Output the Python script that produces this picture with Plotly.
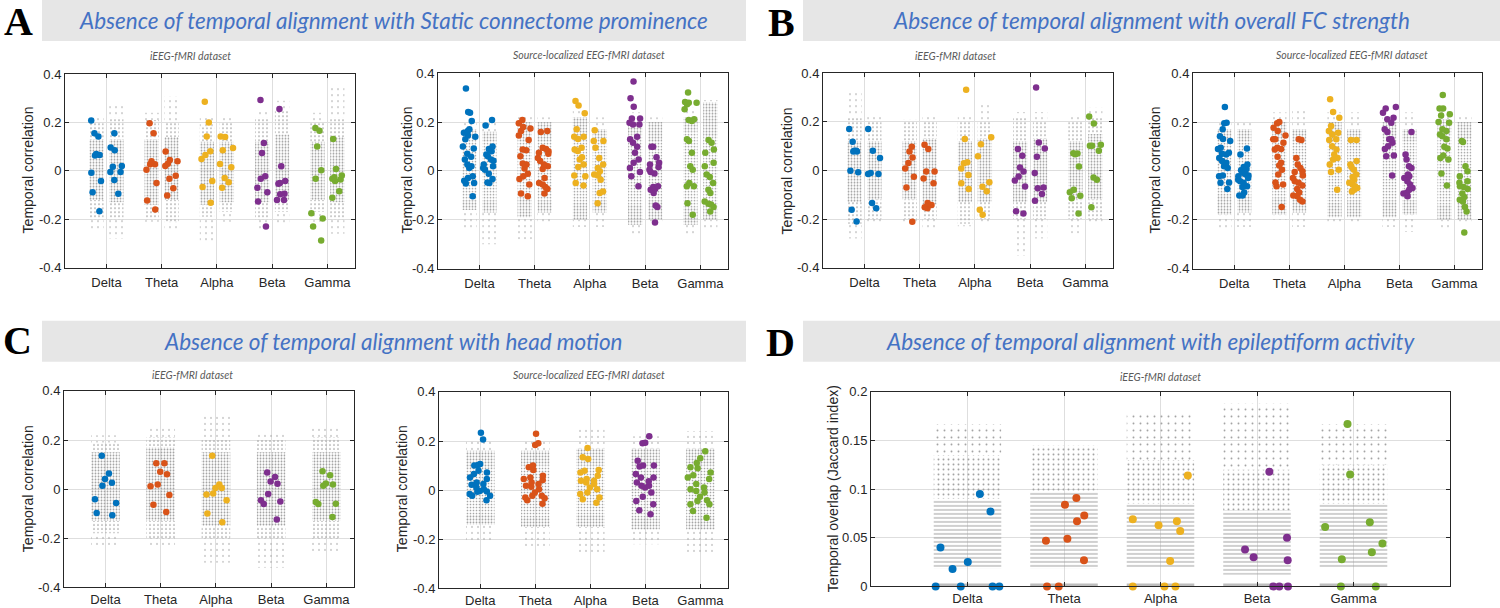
import plotly.graph_objects as go

W, H = 1500, 608
BANDS = ["Delta", "Theta", "Alpha", "Beta", "Gamma"]
BAND_COLORS = ["#0072BD", "#D95319", "#EDB120", "#7E2F8E", "#77AC30"]
CORR_TICKS = [-0.4, -0.2, 0, 0.2, 0.4]
CORR_TICK_TEXT = ["-0.4", "-0.2", "0", "0.2", "0.4"]
JAC_TICKS = [0, 0.05, 0.1, 0.15, 0.2]
JAC_TICK_TEXT = ["0", "0.05", "0.1", "0.15", "0.2"]

# ---------------- coloured (observed) values, per band ----------------
# Panel A, iEEG-fMRI (left / right column of each band)
A1_LEFT = [[0.208, 0.156, 0.142, 0.07, 0.066, 0.064, -0.008, -0.042, -0.088, -0.167],
           [0.197, 0.156, 0.04, 0.027, 0.027, 0.005, -0.05, -0.122, -0.16],
           [0.286, 0.2, 0.142, 0.081, 0.066, 0.049, -0.042, -0.067, -0.132],
           [0.293, 0.115, 0.074, -0.022, -0.033, -0.07, -0.088, -0.127, -0.23],
           [0.177, 0.166, 0.101, 0.003, -0.032, -0.175, -0.197, -0.23, -0.288]]
A1_RIGHT = [[0.156, 0.097, 0.085, 0.02, 0.017, -0.005, -0.005, -0.038, -0.095],
            [0.08, 0.045, 0.04, 0.03, 0.02, -0.02, -0.032, -0.072, -0.102],
            [0.142, 0.14, 0.095, 0.085, 0.029, 0.015, -0.029, -0.047, -0.07],
            [0.256, 0.019, -0.042, -0.05, -0.053, -0.095, -0.097, -0.12, -0.12],
            [0.132, 0.008, -0.019, -0.026, -0.032, -0.036, -0.042, -0.084, -0.111]]
# Panel A, source-localized EEG-fMRI
A2_LEFT = [[0.337, 0.241, 0.238, 0.204, 0.17, 0.163, 0.156, 0.145, 0.14, 0.129, 0.1, 0.092, 0.07, 0.058,
            0.047, 0.026, 0.019, 0.012, -0.022, -0.029, -0.04, -0.05, -0.052, -0.104],
           [0.208, 0.195, 0.18, 0.173, 0.163, 0.145, 0.126, 0.088, 0.084, 0.06, 0.03, 0.026, 0.01, -0.012,
            -0.022, -0.033, -0.056, -0.093, -0.104],
           [0.286, 0.268, 0.236, 0.17, 0.14, 0.14, 0.131, 0.095, 0.088, 0.081, 0.056, 0.047, 0.026, 0.016,
            -0.019, -0.022, -0.05, -0.06],
           [0.366, 0.297, 0.263, 0.214, 0.214, 0.197, 0.19, 0.19, 0.14, 0.129, 0.115, 0.099, 0.074, 0.047,
            0.033, 0.012, -0.005, -0.022, -0.063],
           [0.321, 0.282, 0.279, 0.279, 0.273, 0.252, 0.211, 0.208, 0.204, 0.129, 0.122, 0.074, 0.019, 0.005,
            -0.05, -0.063, -0.063, -0.132, -0.18]]
A2_RIGHT = [[0.208, 0.186, 0.1, 0.09, 0.08, 0.067, 0.06, 0.047, 0.042, 0.026, 0.019, 0.012, 0.005, -0.012,
             -0.033, -0.047, -0.05],
            [0.163, 0.159, 0.095, 0.09, 0.08, 0.074, 0.07, 0.053, 0.04, 0.026, 0.019, 0.008, -0.029, -0.05,
             -0.056, -0.066, -0.074, -0.093],
            [0.166, 0.122, 0.122, 0.095, 0.053, 0.026, 0.012, -0.001, -0.015, -0.019, -0.036, -0.084, -0.09,
             -0.132],
            [0.099, 0.099, 0.056, 0.033, 0.026, 0.016, 0.005, -0.005, -0.011, -0.063, -0.066, -0.074, -0.077,
             -0.09, -0.142, -0.148, -0.211],
            [0.126, 0.115, 0.088, 0.074, 0.033, 0.019, -0.015, -0.025, -0.05, -0.077, -0.09, -0.125, -0.134,
             -0.138, -0.148, -0.166]]
# Panel B, iEEG-fMRI
B1_LEFT = [[0.17, 0.118, 0.081, 0.081, 0.078, 0.078, -0.001, -0.008, -0.162, -0.21],
           [0.097, 0.078, 0.053, 0.03, 0.008, -0.026, -0.07, -0.211],
           [0.332, 0.129, 0.033, 0.029, 0.008, -0.019, -0.053, -0.077],
           [0.088, 0.06, 0.012, -0.005, -0.025, -0.042, -0.066, -0.168, -0.177],
           [0.071, 0.07, 0.066, 0.016, -0.08, -0.09, -0.104, -0.115, -0.177]]
B1_RIGHT = [[0.17, 0.081, 0.051, -0.015, -0.015, -0.011, -0.134, -0.156],
            [0.105, 0.088, -0.005, -0.005, -0.033, -0.053, -0.134, -0.142, -0.152, -0.156],
            [0.136, 0.108, 0.058, -0.049, -0.067, -0.086, -0.162, -0.182],
            [0.341, 0.115, 0.09, 0.056, -0.011, -0.07, -0.073, -0.097, -0.125],
            [0.222, 0.193, 0.105, 0.101, 0.101, 0.081, -0.029, -0.038, -0.152]]
# Panel B, source-localized EEG-fMRI
B2_LEFT = [[0.262, 0.197, 0.195, 0.17, 0.142, 0.131, 0.122, 0.095, 0.09, 0.074, 0.07, 0.067, 0.053, 0.04,
            0.033, 0.019, 0.012, -0.019, -0.022, -0.047, -0.049, -0.074],
           [0.2, 0.195, 0.177, 0.163, 0.145, 0.129, 0.129, 0.115, 0.095, 0.09, 0.088, 0.058, 0.033, 0.022,
            0.005, -0.015, -0.047, -0.056, -0.063, -0.148],
           [0.293, 0.241, 0.218, 0.184, 0.163, 0.156, 0.149, 0.129, 0.126, 0.101, 0.088, 0.067, 0.053, 0.047,
            0.026, 0.005, -0.005, -0.077],
           [0.262, 0.255, 0.238, 0.218, 0.211, 0.197, 0.17, 0.159, 0.129, 0.129, 0.115, 0.101, 0.09, 0.063,
            0.06, -0.019],
           [0.311, 0.255, 0.255, 0.232, 0.227, 0.2, 0.197, 0.17, 0.163, 0.149, 0.142, 0.129, 0.099, 0.092,
            0.063, 0.053, 0.047, -0.011, -0.06]]
B2_RIGHT = [[0.092, 0.067, 0.026, 0.016, 0.008, 0.003, -0.008, -0.015, -0.019, -0.022, -0.029, -0.036, -0.042,
             -0.049, -0.063, -0.066, -0.088, -0.101, -0.101],
            [0.129, 0.126, 0.053, 0.026, 0.012, -0.001, -0.005, -0.019, -0.029, -0.042, -0.049, -0.06, -0.074,
             -0.088, -0.101, -0.104, -0.118, -0.125],
            [0.126, 0.126, 0.04, 0.026, 0.016, 0.005, -0.015, -0.025, -0.036, -0.049, -0.056, -0.063, -0.07,
             -0.077, -0.084],
            [0.159, 0.067, 0.047, 0.019, 0.012, -0.015, -0.022, -0.029, -0.042, -0.056, -0.07, -0.077, -0.088,
             -0.093, -0.104],
            [0.122, 0.118, 0.019, -0.001, -0.022, -0.042, -0.049, -0.063, -0.066, -0.074, -0.093, -0.107, -0.118,
             -0.125, -0.148, -0.166, -0.252]]
# Panel C (one column per band)
C1_VALUES = [[0.136, 0.064, 0.041, 0.026, 0.014, -0.041, -0.056, -0.097, -0.106],
             [0.105, 0.105, 0.071, 0.061, 0.019, 0.012, -0.024, -0.064, -0.093],
             [0.136, 0.019, 0.005, 0.005, -0.018, -0.022, -0.045, -0.099, -0.135],
             [0.068, 0.05, 0.031, 0.022, -0.02, -0.045, -0.05, -0.06, -0.124],
             [0.073, 0.057, 0.023, 0.019, 0.014, -0.052, -0.059, -0.06, -0.113]]
C2_VALUES = [[0.234, 0.206, 0.107, 0.102, 0.1, 0.079, 0.072, 0.066, 0.052, 0.045, 0.031, 0.025, 0.022, 0.011,
              0.004, -0.003, -0.005, -0.007, -0.016, -0.023, -0.023, -0.041],
             [0.23, 0.191, 0.184, 0.1, 0.093, 0.082, 0.059, 0.052, 0.045, 0.041, 0.031, 0.025, 0.018, 0.014,
              0.004, -0.01, -0.023, -0.023, -0.03, -0.033, -0.041, -0.055],
             [0.172, 0.134, 0.127, 0.082, 0.079, 0.072, 0.059, 0.045, 0.038, 0.038, 0.031, 0.025, 0.011, 0.004,
              -0.01, -0.016, -0.03, -0.037, -0.051],
             [0.219, 0.193, 0.191, 0.12, 0.1, 0.1, 0.096, 0.066, 0.052, 0.052, 0.036, 0.031, 0.018, 0.018, 0.011,
              -0.01, -0.027, -0.044, -0.057, -0.082, -0.098],
             [0.158, 0.13, 0.111, 0.093, 0.089, 0.072, 0.061, 0.052, 0.045, 0.025, 0.011, 0.004, -0.003, -0.01,
              -0.027, -0.041, -0.044, -0.057, -0.057, -0.085, -0.112]]
# Panel D: Jaccard index and the horizontal jitter read for each point
D_VALUES = [[0.095, 0.077, 0.04, 0.025, 0.018, 0, 0, 0, 0],
            [0.091, 0.084, 0.073, 0.067, 0.049, 0.047, 0.027, 0, 0],
            [0.114, 0.069, 0.067, 0.063, 0.057, 0.026, 0, 0, 0],
            [0.118, 0.05, 0.038, 0.03, 0.027, 0, 0, 0],
            [0.167, 0.115, 0.066, 0.061, 0.044, 0.035, 0.028, 0, 0]]
D_JITTER = [[0.128, 0.238, -0.28, 0.003, -0.155, -0.33, -0.07, 0.26, 0.33],
            [0.128, 0.01, 0.21, 0.135, 0.035, -0.187, 0.207, -0.176, -0.055],
            [0.283, -0.287, 0.17, -0.02, 0.204, 0.1, -0.287, 0.041, 0.155],
            [0.128, 0.311, -0.124, -0.035, 0.318, 0.169, 0.231, 0.321],
            [-0.062, -0.035, 0.169, -0.294, 0.3, 0.19, -0.121, -0.131, 0.231]]

# ---------------- null-distribution clouds (extent read per column) ----------------
# columns ordered Delta-L, Delta-R, Theta-L, Theta-R, ... Gamma-R
A1_CORE_LO = [-0.12, -0.13, -0.14, -0.12, -0.14, -0.13, -0.13, -0.12, -0.12, -0.13]
A1_CORE_HI = [0.13, 0.13, 0.13, 0.14, 0.12, 0.12, 0.12, 0.15, 0.12, 0.14]
A1_MID_LO = [-0.2, -0.2, -0.2, -0.21, -0.19, -0.17, -0.2, -0.17, -0.17, -0.2]
A1_MID_HI = [0.2, 0.22, 0.21, 0.2, 0.18, 0.2, 0.22, 0.25, 0.2, 0.22]
A1_TAIL_LO = [-0.25, -0.28, -0.21, -0.24, -0.29, -0.21, -0.25, -0.22, -0.21, -0.26]
A1_TAIL_HI = [0.23, 0.27, 0.24, 0.31, 0.22, 0.22, 0.25, 0.29, 0.24, 0.35]

A2_CORE_LO = [-0.12, -0.12, -0.11, -0.12, -0.13, -0.12, -0.14, -0.12, -0.15, -0.13]
A2_CORE_HI = [0.13, 0.12, 0.12, 0.12, 0.13, 0.12, 0.15, 0.12, 0.16, 0.14]
A2_MID_LO = [-0.16, -0.17, -0.19, -0.17, -0.2, -0.17, -0.22, -0.2, -0.22, -0.2]
A2_MID_HI = [0.17, 0.16, 0.2, 0.2, 0.22, 0.17, 0.2, 0.2, 0.22, 0.28]
A2_TAIL_LO = [-0.24, -0.3, -0.28, -0.22, -0.23, -0.23, -0.26, -0.22, -0.26, -0.24]
A2_TAIL_HI = [0.2, 0.2, 0.23, 0.22, 0.25, 0.22, 0.24, 0.22, 0.26, 0.29]

B1_CORE_LO = [-0.13, -0.12, -0.12, -0.14, -0.13, -0.13, -0.13, -0.13, -0.12, -0.12]
B1_CORE_HI = [0.12, 0.12, 0.12, 0.13, 0.12, 0.13, 0.12, 0.13, 0.12, 0.15]
B1_MID_LO = [-0.22, -0.2, -0.2, -0.2, -0.22, -0.2, -0.2, -0.2, -0.2, -0.2]
B1_MID_HI = [0.22, 0.2, 0.2, 0.2, 0.2, 0.2, 0.22, 0.2, 0.2, 0.22]
B1_TAIL_LO = [-0.28, -0.22, -0.22, -0.24, -0.23, -0.22, -0.35, -0.28, -0.26, -0.22]
B1_TAIL_HI = [0.32, 0.23, 0.21, 0.22, 0.23, 0.28, 0.24, 0.24, 0.23, 0.26]

B2_CORE_LO = [-0.1, -0.1, -0.11, -0.11, -0.13, -0.12, -0.12, -0.12, -0.14, -0.12]
B2_CORE_HI = [0.12, 0.12, 0.13, 0.12, 0.13, 0.12, 0.14, 0.12, 0.15, 0.13]
B2_MID_LO = [-0.18, -0.17, -0.18, -0.17, -0.19, -0.19, -0.19, -0.18, -0.2, -0.2]
B2_MID_HI = [0.17, 0.17, 0.2, 0.17, 0.2, 0.17, 0.2, 0.17, 0.21, 0.2]
B2_TAIL_LO = [-0.24, -0.23, -0.2, -0.23, -0.21, -0.22, -0.23, -0.25, -0.24, -0.22]
B2_TAIL_HI = [0.2, 0.2, 0.24, 0.25, 0.24, 0.24, 0.22, 0.24, 0.25, 0.23]

C1_CORE_LO = [-0.13, -0.13, -0.15, -0.15, -0.13]
C1_CORE_HI = [0.15, 0.17, 0.15, 0.15, 0.15]
C1_MID_LO = [-0.18, -0.2, -0.2, -0.2, -0.2]
C1_MID_HI = [0.19, 0.21, 0.2, 0.2, 0.21]
C1_TAIL_LO = [-0.23, -0.24, -0.3, -0.32, -0.26]
C1_TAIL_HI = [0.22, 0.25, 0.3, 0.23, 0.25]

C2_CORE_LO = [-0.1, -0.11, -0.1, -0.11, -0.11]
C2_CORE_HI = [0.09, 0.1, 0.1, 0.1, 0.1]
C2_MID_LO = [-0.14, -0.15, -0.15, -0.16, -0.16]
C2_MID_HI = [0.16, 0.16, 0.17, 0.17, 0.17]
C2_TAIL_LO = [-0.21, -0.24, -0.26, -0.22, -0.26]
C2_TAIL_HI = [0.2, 0.21, 0.25, 0.22, 0.24]

D_CORE_LO = [0.018, 0.018, 0.02, 0.012, 0.02]
D_CORE_HI = [0.09, 0.098, 0.085, 0.078, 0.085]
D_MID_HI = [0.135, 0.145, 0.13, 0.12, 0.125]
D_TAIL_HI = [0.167, 0.145, 0.18, 0.188, 0.167]

# ---------------- styles ----------------
DOT = "rgb(160,160,160)"
AX_COL = "rgb(38,38,38)"
GRID_COL = "rgb(222,222,222)"
HEADER_BG = "rgb(230,230,230)"
HEADER_FG = "rgb(68,114,196)"
SANS = "Liberation Sans, Arial, sans-serif"
HUMAN = "Lato, Open Sans, sans-serif"
NONE = "rgba(0,0,0,0)"

# vertical calibration of the photographed page (measured: shown_y = Y0 + YS * page_y)
Y0, YS = 8.0, 0.973


def yp(y):
    """target picture row (px from top) -> paper fraction"""
    return 1 - ((y - Y0) / YS) / H


fig = go.Figure()


def band_bars(ax, centers, hw, lows, highs, bg, size, solidity, shape="."):
    """Cloud band drawn as floating bars (base=low, height=high-low) with a dot pattern."""
    xs, base, hgt = [], [], []
    for c, lo, hi in zip(centers, lows, highs):
        if hi > lo:
            xs.append(c)
            base.append(lo)
            hgt.append(hi - lo)
    pattern = dict(shape=shape, fgcolor=DOT, size=size, solidity=solidity, fillmode="replace")
    fig.add_trace(go.Bar(x=xs, y=hgt, base=base, width=2 * hw,
                         marker=dict(color=bg, line=dict(width=0), pattern=pattern),
                         hoverinfo="skip", showlegend=False, xaxis="x" + ax, yaxis="y" + ax))


def add_cloud(ax, centers, hw, core_lo, core_hi, mid_lo, mid_hi, tail_lo, tail_hi, dense):
    band_bars(ax, centers, hw, mid_hi, tail_hi, NONE, 6, 0.06)
    band_bars(ax, centers, hw, tail_lo, mid_lo, NONE, 6, 0.06)
    if dense:
        band_bars(ax, centers, hw, core_hi, mid_hi, "rgb(222,222,222)", 3, 0.3)
        band_bars(ax, centers, hw, mid_lo, core_lo, "rgb(222,222,222)", 3, 0.3)
        band_bars(ax, centers, hw, core_lo, core_hi, "rgb(190,190,190)", 3, 0.25)
    else:
        band_bars(ax, centers, hw, core_hi, mid_hi, "rgb(236,236,236)", 4, 0.15)
        band_bars(ax, centers, hw, mid_lo, core_lo, "rgb(236,236,236)", 4, 0.15)
        band_bars(ax, centers, hw, core_lo, core_hi, "rgb(210,210,210)", 3, 0.3)


OFF = 0.18
TWO_COL = [i + 1 + s for i in range(5) for s in (-OFF, OFF)]
ONE_COL = [i + 1 for i in range(5)]


def point_box(ax, xs, ys, color, width):
    fig.add_trace(go.Box(x=xs, y=ys, boxpoints="all", jitter=1, pointpos=0, width=width,
                         marker=dict(color=color, size=6.5, line=dict(width=0)),
                         line=dict(width=0, color=NONE), fillcolor=NONE,
                         whiskerwidth=0, hoverinfo="skip", showlegend=False,
                         xaxis="x" + ax, yaxis="y" + ax))


def add_points_two(ax, left, right):
    for i in range(5):
        xs = [i + 1 - OFF] * len(left[i]) + [i + 1 + OFF] * len(right[i])
        point_box(ax, xs, left[i] + right[i], BAND_COLORS[i], 0.26)


def add_points_one(ax, vals):
    for i in range(5):
        point_box(ax, [i + 1] * len(vals[i]), vals[i], BAND_COLORS[i], 0.5)


# panel A
add_cloud("", TWO_COL, 0.13, A1_CORE_LO, A1_CORE_HI, A1_MID_LO, A1_MID_HI, A1_TAIL_LO, A1_TAIL_HI, False)
add_points_two("", A1_LEFT, A1_RIGHT)
add_cloud("2", TWO_COL, 0.13, A2_CORE_LO, A2_CORE_HI, A2_MID_LO, A2_MID_HI, A2_TAIL_LO, A2_TAIL_HI, True)
add_points_two("2", A2_LEFT, A2_RIGHT)
# panel B
add_cloud("3", TWO_COL, 0.13, B1_CORE_LO, B1_CORE_HI, B1_MID_LO, B1_MID_HI, B1_TAIL_LO, B1_TAIL_HI, False)
add_points_two("3", B1_LEFT, B1_RIGHT)
add_cloud("4", TWO_COL, 0.13, B2_CORE_LO, B2_CORE_HI, B2_MID_LO, B2_MID_HI, B2_TAIL_LO, B2_TAIL_HI, True)
add_points_two("4", B2_LEFT, B2_RIGHT)
# panel C
add_cloud("5", ONE_COL, 0.26, C1_CORE_LO, C1_CORE_HI, C1_MID_LO, C1_MID_HI, C1_TAIL_LO, C1_TAIL_HI, False)
add_points_one("5", C1_VALUES)
add_cloud("6", ONE_COL, 0.26, C2_CORE_LO, C2_CORE_HI, C2_MID_LO, C2_MID_HI, C2_TAIL_LO, C2_TAIL_HI, True)
add_points_one("6", C2_VALUES)

# panel D
band_bars("7", ONE_COL, 0.35, D_MID_HI, D_TAIL_HI, NONE, 7, 0.06)
band_bars("7", ONE_COL, 0.35, D_CORE_HI, D_MID_HI, NONE, 5, 0.12)
band_bars("7", ONE_COL, 0.35, D_CORE_LO, D_CORE_HI, "rgb(246,246,246)", 4, 0.25, "-")
zx, zy = [], []
for c in ONE_COL:
    zx += [c - 0.35, c + 0.35, None]
    zy += [0, 0, None]
fig.add_trace(go.Scatter(x=zx, y=zy, mode="lines", line=dict(color="rgb(190,190,190)", width=6),
                         hoverinfo="skip", showlegend=False, xaxis="x7", yaxis="y7"))
for i in range(5):
    fig.add_trace(go.Scatter(x=[i + 1 + j for j in D_JITTER[i]], y=D_VALUES[i], mode="markers",
                             marker=dict(color=BAND_COLORS[i], size=8, line=dict(width=0)),
                             cliponaxis=False, hoverinfo="skip", showlegend=False,
                             xaxis="x7", yaxis="y7"))

# ---------------- axes ----------------
AXES = {  # name: (left, right, top, bottom) in picture px
    "": (65, 355, 75, 268),
    "2": (438, 728, 74, 269),
    "3": (823, 1113, 74, 268),
    "4": (1193, 1482, 74, 269),
    "5": (64, 354, 391, 587),
    "6": (439, 728, 392, 588),
    "7": (871, 1450, 392, 586),
}
common = dict(showline=True, linecolor=AX_COL, linewidth=1, mirror="ticks", ticks="inside", ticklen=4,
              tickcolor=AX_COL, showgrid=True, gridcolor=GRID_COL, gridwidth=1, zeroline=False,
              tickfont=dict(family=SANS, size=13, color=AX_COL), fixedrange=True)
lay = {}
for name, (l, r, t, b) in AXES.items():
    is_d = name == "7"
    xa = dict(common, domain=[l / W, r / W], anchor="y" + name,
              range=[0, 6] if is_d else [0.25, 5.5], tickvals=ONE_COL, ticktext=BANDS,
              ticklabelstandoff=3 if t < 300 else 0)
    ya = dict(common, domain=[yp(b), yp(t)], anchor="x" + name,
              range=[0, 0.2] if is_d else [-0.4, 0.4],
              tickvals=JAC_TICKS if is_d else CORR_TICKS,
              ticktext=JAC_TICK_TEXT if is_d else CORR_TICK_TEXT)
    lay["xaxis" + name] = xa
    lay["yaxis" + name] = ya

# ---------------- headers & text ----------------
shapes = []
for (x0, x1, y0, y1) in [(42, 746, -12, 42), (803, 1500, -12, 42), (42, 746, 321, 362), (803, 1500, 321, 362)]:
    shapes.append(dict(type="rect", xref="paper", yref="paper", x0=x0 / W, x1=x1 / W,
                       y0=yp(y1), y1=yp(y0), fillcolor=HEADER_BG, line=dict(width=0), layer="below"))

ann = []


def text(x, y, s, size, color, family, angle=0):
    ann.append(dict(x=x / W, y=yp(y), xref="paper", yref="paper", text=s, showarrow=False,
                    xanchor="center", yanchor="middle", textangle=angle,
                    font=dict(size=size, color=color, family=family)))


HEADERS = ["Absence of temporal alignment with Static connectome prominence",
           "Absence of temporal alignment with overall FC strength",
           "Absence of temporal alignment with head motion",
           "Absence of temporal alignment with epileptiform activity"]
for (cx, cy), s in zip([(393, 21), (1151, 21), (393, 342), (1151, 342)], HEADERS):
    text(cx, cy, "<i>" + s + "</i>", 22.5, HEADER_FG, HUMAN)
for (cx, cy), s in zip([(18, 22), (781, 23), (17, 341), (780, 343)], ["A", "B", "C", "D"]):
    text(cx, cy, "<b>" + s + "</b>", 40, "black", "Liberation Serif, Times New Roman, serif")
SUBTITLES = ["iEEG-fMRI dataset", "Source-localized EEG-fMRI dataset"]
for (cx, cy), s in zip([(190, 57), (589, 56), (955, 57), (1352, 56), (192, 375), (589, 375), (1160, 377)],
                       [0, 1, 0, 1, 0, 1, 0]):
    text(cx, cy, "<i>" + SUBTITLES[s] + "</i>", 10.5, "rgb(90,90,90)", HUMAN)
for cx, cy in [(28, 171), (407, 171), (787, 171), (1155, 171), (28, 489), (402, 489)]:
    text(cx, cy, "Temporal correlation", 14, AX_COL, SANS, -90)
text(833, 489, "Temporal overlap (Jaccard index)", 14, AX_COL, SANS, -90)

fig.update_layout(width=W, height=H, margin=dict(l=0, r=0, t=0, b=0), paper_bgcolor="white",
                  plot_bgcolor="white", showlegend=False, boxmode="overlay", barmode="overlay",
                  shapes=shapes, annotations=ann, **lay)

PAGE_FIX = ("var d=document.documentElement,b=document.body;"
            "d.style.margin='0';d.style.padding='0';d.style.overflow='hidden';"
            "b.style.margin='0';b.style.padding='0';b.style.overflow='hidden';"
            "var g=document.getElementById('{plot_id}');"
            "g.style.position='absolute';g.style.left='0px';g.style.top='0px';")
fig.write_html("out.html", config={"displayModeBar": False, "responsive": False},
               post_script=PAGE_FIX)
